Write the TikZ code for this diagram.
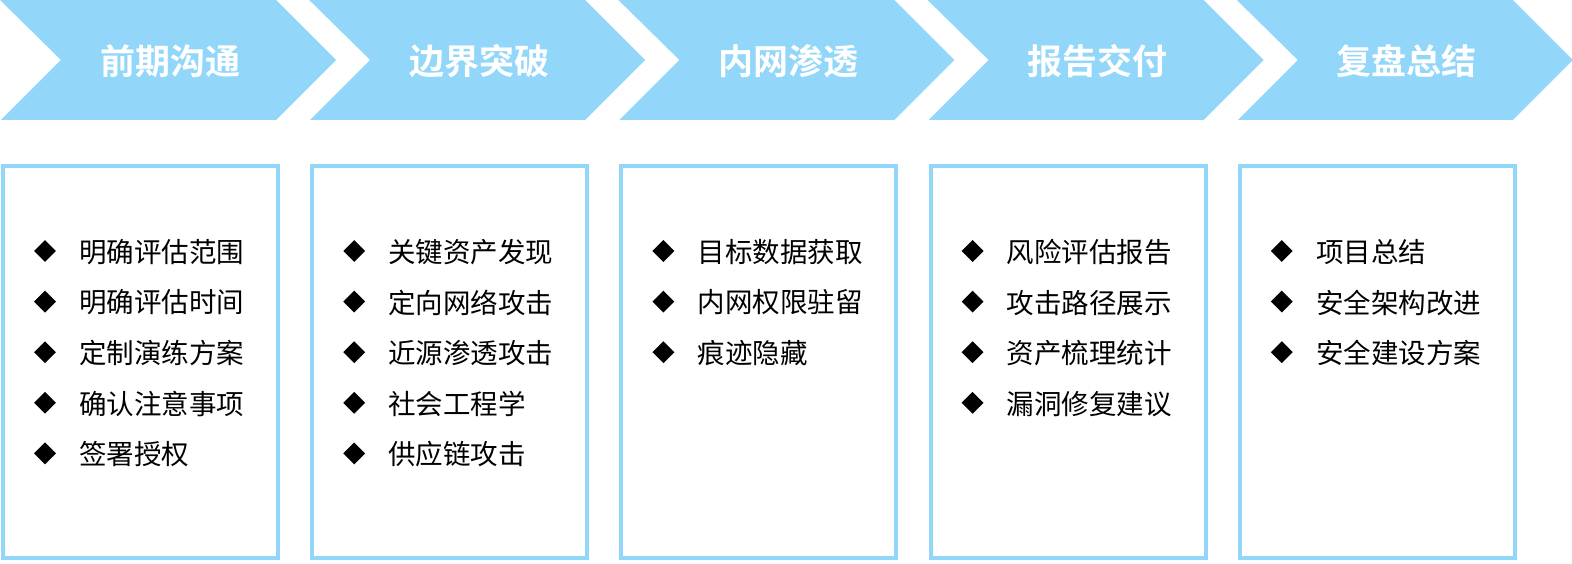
\documentclass[tikz,border=0pt]{standalone}
\usepackage{fontspec}
\newfontfamily\cjk{Noto Sans CJK SC}
\newfontfamily\cjkb{Noto Sans CJK SC Bold}
\usetikzlibrary{shapes.geometric}
\definecolor{lblue}{HTML}{92D7FA}
\tikzset{
  chev/.style={fill=lblue, draw=none},
  ttl/.style={text=white, font=\cjkb\fontsize{35}{38}\selectfont, inner sep=0pt},
  panel/.style={draw=lblue, line width=4pt, fill=white},
  bul/.style={diamond, fill=black, draw=none, minimum size=22pt, inner sep=0pt},
  itm/.style={anchor=west, font=\cjk\fontsize{27.5}{30}\selectfont, inner sep=0pt, text=black},
}
\newcommand{\mychev}[3]{%
  \fill[chev] (#1,0) -- (#1+276,0) -- (#1+336,60) -- (#1+276,120) -- (#1+1,120) -- (#1+61,60) -- cycle;
  \node[ttl] (t#2) at (#1+170,61) {#3};
}
\begin{document}
\begin{tikzpicture}[x=1pt,y=-1pt]
\useasboundingbox (0,0) rectangle (1572,564);
\fill[white] (0,0) rectangle (1572,564);
\mychev{0}{1}{前期沟通}
\mychev{309.2}{2}{边界突破}
\mychev{618.4}{3}{内网渗透}
\mychev{927.6}{4}{报告交付}
\mychev{1236.8}{5}{复盘总结}
% panels
\foreach \L/\n in {0/1,309.2/2,618.4/3,927.6/4,1236.8/5}{
  \draw[panel] (\L+3,166) rectangle (\L+278,558);
}
% items
\foreach \L/\n/\items in {
  0/1/{明确评估范围,明确评估时间,定制演练方案,确认注意事项,签署授权},
  309.2/2/{关键资产发现,定向网络攻击,近源渗透攻击,社会工程学,供应链攻击},
  618.4/3/{目标数据获取,内网权限驻留,痕迹隐藏},
  927.6/4/{风险评估报告,攻击路径展示,资产梳理统计,漏洞修复建议},
  1236.8/5/{项目总结,安全架构改进,安全建设方案}}{
  \foreach \t [count=\k] in \items {
    \node[bul] (b\n-\k) at (\L+45, 251+50.6*\k-50.6) {};
    \node[itm] (i\n-\k) at (\L+79, 252+50.6*\k-50.6) {\t};
  }
}
\end{tikzpicture}
\end{document}
